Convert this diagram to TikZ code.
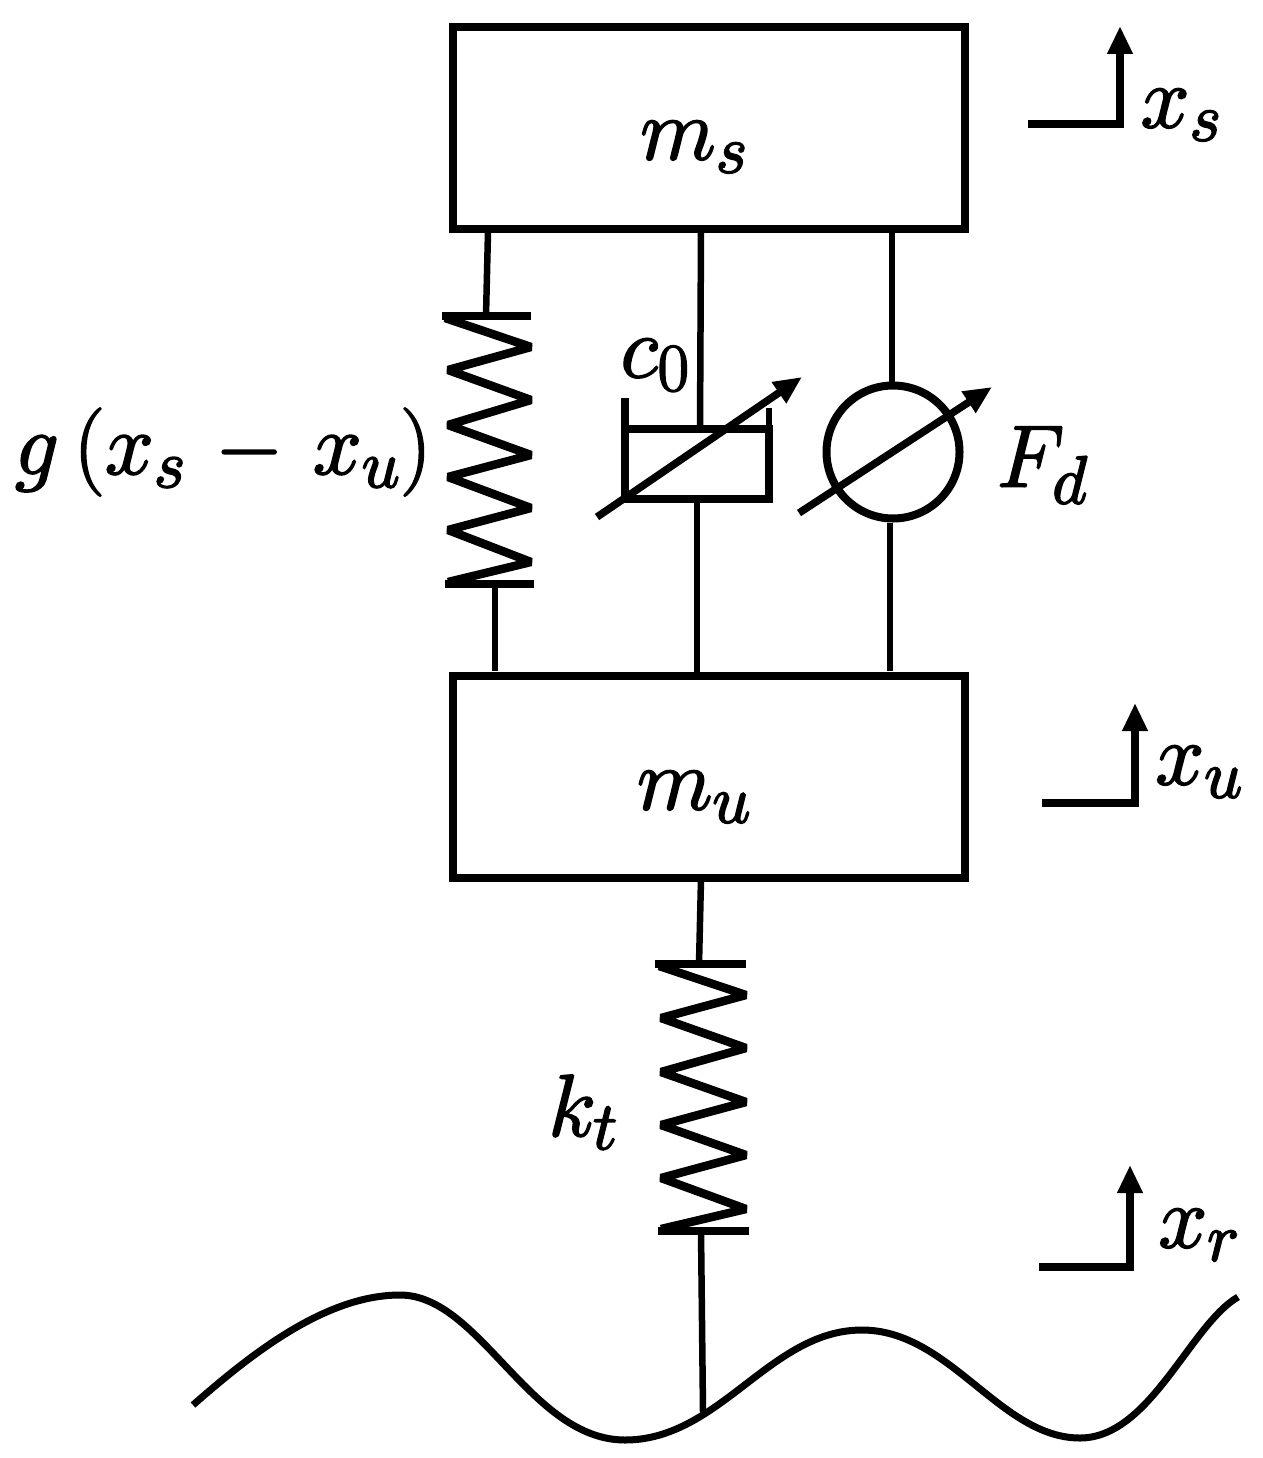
\RequirePackage{fix-cm}
\documentclass[tikz,border=0pt]{standalone}
\usepackage{amsmath}
\usetikzlibrary{arrows.meta}
\DeclareMathSizes{88}{88}{68}{52}
\tikzset{
  every path/.style={line width=6.5pt,line join=miter},
  mass/.style={draw,line width=8pt,rectangle,inner sep=0pt,minimum width=512pt,minimum height=201pt},
  wire/.style={line width=6.5pt},
  bar/.style={line width=8pt},
  zig/.style={line width=8.5pt,line join=miter,miter limit=3},
  varrow/.style={line width=7.5pt,-{Triangle[length=28pt,width=24pt]},shorten >=0pt},
  motion/.style={line width=7.5pt,line join=miter,-{Triangle[length=28pt,width=24pt]}},
  lab/.style={inner sep=0pt,font=\fontsize{88}{96}\selectfont},
  road/.style={line width=7pt,line cap=butt},
  gadget/.style={draw,circle,line width=8pt,inner sep=0pt,minimum size=133pt}
}
\newcommand{\lbltxt}[1]{\special{pdf:literal direct 2 Tr 1.8 w}$#1$\special{pdf:literal direct 0 Tr}}
\begin{document}
\begin{tikzpicture}[x=1pt,y=-1pt]
\useasboundingbox (0,0) rectangle (1262,1458);
\fill[white] (0,0) rectangle (1262,1458);
% masses
\node[mass] (ms) at (709,128) {};
\node[mass,minimum height=202pt] (mu) at (709,776.5) {};
\node[lab] (lms) at (694,147) {\lbltxt{m_s}};
\node[lab] (lmu) at (694,797) {\lbltxt{m_u}};
% left spring
\coordinate (a1) at (488,231);
\coordinate (a2) at (486,316);
\coordinate (a3) at (495,584);
\coordinate (a4) at (495,671);
\draw[wire] (a1) -- (a2);
\draw[wire] (a3) -- (a4);
\draw[bar] (442,316) -- (531,316);
\draw[bar] (445,584) -- (534,584);
\draw[zig] (445,318) -- (531,347) -- (448,370) -- (531,400) -- (448,425) -- (531,455) -- (448,477) -- (531,508) -- (448,530) -- (531,562) -- (448,582);
% damper
\coordinate (d1) at (701,231);
\coordinate (d2) at (700,429);
\coordinate (d3) at (697,499);
\coordinate (d4) at (697,676);
\draw[wire] (d1) -- (d2);
\draw[wire] (d3) -- (d4);
\draw[line width=7.5pt] (625,398) -- (625,499) -- (769,499) -- (769,429) -- (625,429);
\draw[line width=6pt] (769,429) -- (769,408);
\coordinate (d5) at (597,517);
\coordinate (d6) at (802,377);
\draw[varrow] (d5) -- (d6);
% force element
\node[gadget] (fd) at (893,452) {};
\coordinate (f1) at (892,231);
\coordinate (f2) at (890,671);
\draw[wire] (f1) -- (fd.north -| f1);
\draw[wire] (fd.south -| f2) -- (f2);
\coordinate (f3) at (799,513);
\coordinate (f4) at (992,387);
\draw[varrow] (f3) -- (f4);
% lower spring
\coordinate (b1) at (701,879);
\coordinate (b2) at (699,964);
\coordinate (b3) at (701,1231);
\coordinate (b4) at (703,1412);
\draw[wire] (b1) -- (b2);
\draw[wire] (b3) -- (b4);
\draw[bar] (655,964) -- (746,964);
\draw[bar] (658,1231) -- (749,1231);
\draw[zig] (659,966) -- (746,995) -- (661,1018) -- (746,1048) -- (661,1072) -- (746,1102) -- (661,1125) -- (746,1155) -- (661,1178) -- (746,1209) -- (661,1229);
% road
\draw[road] (193,1405)
  .. controls (250,1355) and (325,1295) .. (400,1295)
  .. controls (480,1295) and (530,1440) .. (625,1440)
  .. controls (720,1440) and (770,1330) .. (862,1330)
  .. controls (950,1330) and (1000,1438) .. (1080,1438)
  .. controls (1150,1438) and (1190,1325) .. (1238,1297);
% motion indicators
\coordinate (m1a) at (1028,124); \coordinate (m1b) at (1120,124); \coordinate (m1c) at (1120,26);
\draw[motion] (m1a) -- (m1b) -- (m1c);
\coordinate (m2a) at (1042,803); \coordinate (m2b) at (1135,803); \coordinate (m2c) at (1135,703);
\draw[motion] (m2a) -- (m2b) -- (m2c);
\coordinate (m3a) at (1039,1267); \coordinate (m3b) at (1130,1267); \coordinate (m3c) at (1130,1165);
\draw[motion] (m3a) -- (m3b) -- (m3c);
% labels
\node[lab] (lxs) at (1181,115) {\lbltxt{x_s}};
\node[lab] (lxu) at (1199,772) {\lbltxt{x_u}};
\node[lab] (lxr) at (1199,1235) {\lbltxt{x_r}};
\node[lab] (lg) at (223,452) {\lbltxt{g\mkern3mu(x_s\mkern2mu-\mkern2mu x_u)}};
\node[lab] (lc) at (655,365) {\lbltxt{c_0}};
\node[lab] (lf) at (1042,465) {\lbltxt{F_d}};
\node[lab] (lk) at (583,1112) {\lbltxt{k_t}};
\end{tikzpicture}
\end{document}
